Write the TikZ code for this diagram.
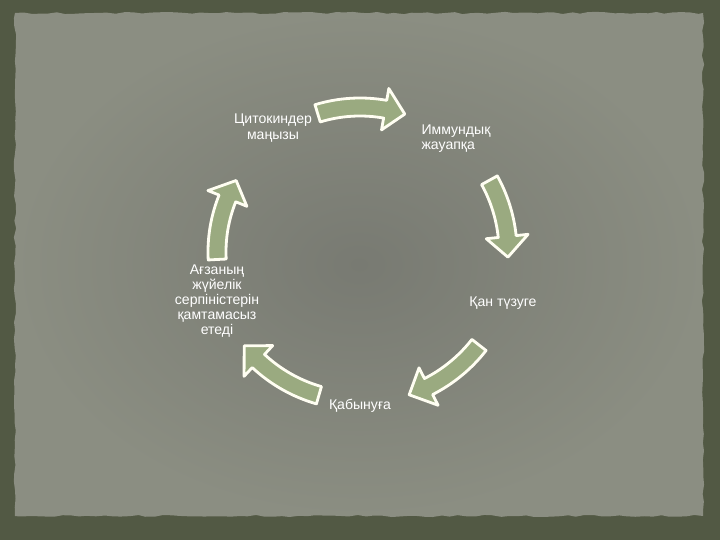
\documentclass[tikz,border=0pt]{standalone}
\usepackage{fontspec}
\setmainfont{Liberation Sans}
\usepackage{tikz}
\usetikzlibrary{decorations.pathmorphing}

\definecolor{framebg}{HTML}{525944}
\definecolor{paperedge}{HTML}{8B8E82}
\definecolor{papermid}{HTML}{787A72}
\definecolor{arrowgreen}{HTML}{9AAA80}

\tikzset{
  cyclearrow/.style={fill=arrowgreen, draw=white!95!yellow, line width=2pt, line join=round},
  steptext/.style={text=white, font=\fontsize{10}{10.8}\selectfont, inner sep=1pt}
}

\begin{document}
\begin{tikzpicture}[x=0.025cm,y=0.025cm]
\pgfmathsetseed{7}
% background and paper sheet
\fill[framebg] (-360,-288) rectangle (360,252);
\shade[inner color=papermid, outer color=paperedge,
  decorate, decoration={random steps, segment length=6pt, amplitude=0.8pt}]
  (-345,-264) rectangle (343,239);
% labels of the cycle
\node[steptext, align=center] (cyto) at (-87,124) {Цитокиндер\\маңызы};
\node[steptext, align=left] (immune) at (96,113) {Иммундық\\жауапқа};
\node[steptext] (blood) at (143,-51) {Қан түзуге};
\node[steptext] (inflam) at (0,-154) {Қабынуға};
\node[steptext, align=center] (organism) at (-143,-49) {Ағзаның\\жүйелік\\серпіністерін\\қамтамасыз\\етеді};
% curved block arrows, clockwise
\foreach \a/\b/\r in {107/72/145, 29/-2/148, -38/-71/151, -106/-141/149, 183/150/143}
  \filldraw[cyclearrow] ({\a}:{\r-9}) arc[start angle=\a, end angle=\b+8, radius=\r-9]
    -- ({\b+8}:{\r-21}) -- ({\b}:{\r}) -- ({\b+8}:{\r+21}) -- ({\b+8}:{\r+9})
    arc[start angle=\b+8, end angle=\a, radius=\r+9] -- cycle;
\end{tikzpicture}
\end{document}
